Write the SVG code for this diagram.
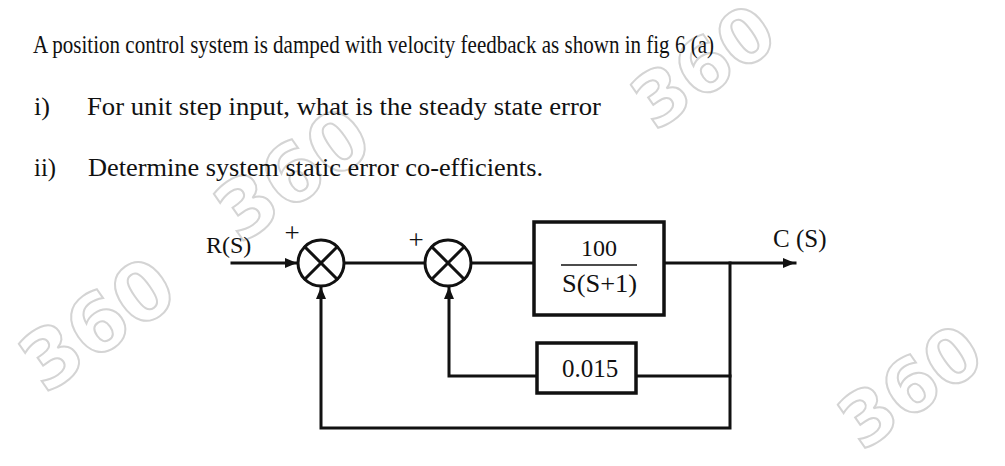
<svg xmlns="http://www.w3.org/2000/svg" width="1005" height="466" viewBox="0 0 1005 466">
<defs>
<style>
.t{font-family:"Liberation Serif","Times New Roman",serif;fill:#111;}
.q{font-size:26px;}
.ln{fill:none;stroke:#111;stroke-width:3;stroke-linecap:square;}
.bx{fill:#fff;stroke:#111;stroke-width:3.5;}
.wm{font-family:"DejaVu Sans",sans-serif;font-weight:bold;fill:none;stroke:#d4d4d4;stroke-width:2;}
</style>
<marker id="ah" viewBox="0 0 12 10" refX="12" refY="5" markerWidth="12" markerHeight="10" markerUnits="userSpaceOnUse" orient="auto">
<path d="M0,0 L12,5 L0,10 Z" fill="#111"/>
</marker>
</defs>
<rect width="1005" height="466" fill="#fff"/>
<g id="watermarks">
<text class="wm" font-size="80" transform="translate(45,395) rotate(-35)">360</text>
<text class="wm" font-size="80" transform="translate(240,245) rotate(-35)">360</text>
<text class="wm" font-size="74" transform="translate(655,132) rotate(-35)">360</text>
<text class="wm" font-size="74" transform="translate(862,452) rotate(-35)">360</text>
</g>
<g id="question">
<text class="t q" x="33" y="53" textLength="681" lengthAdjust="spacingAndGlyphs">A position control system is damped with velocity feedback as shown in fig 6 (a)</text>
<text class="t q" x="34" y="115" textLength="16" lengthAdjust="spacingAndGlyphs">i)</text>
<text class="t q" x="87" y="115" textLength="514" lengthAdjust="spacingAndGlyphs">For unit step input, what is the steady state error</text>
<text class="t q" x="34" y="176" textLength="22" lengthAdjust="spacingAndGlyphs">ii)</text>
<text class="t q" x="88" y="176" textLength="455" lengthAdjust="spacingAndGlyphs">Determine system static error co-efficients.</text>
</g>
<g id="connectors">
<line class="ln" x1="232" y1="263" x2="297" y2="263" marker-end="url(#ah)"/>
<line class="ln" x1="344" y1="263" x2="425" y2="263"/>
<line class="ln" x1="471" y1="263" x2="534" y2="263"/>
<line class="ln" x1="664" y1="263" x2="795" y2="263" marker-end="url(#ah)"/>
<polyline class="ln" points="730,263 730,428 321,428 321,287" marker-end="url(#ah)"/>
<line class="ln" x1="730" y1="376" x2="636" y2="376"/>
<polyline class="ln" points="537,376 449,376 449,287" marker-end="url(#ah)"/>
</g>
<g id="sum1">
<circle cx="321" cy="263" r="23" fill="#fff" stroke="#111" stroke-width="3"/>
<path class="ln" d="M305,247 L337,279 M337,247 L305,279" stroke-linecap="butt"/>
<text class="t" x="292" y="242" font-size="27" text-anchor="middle">+</text>
</g>
<g id="sum2">
<circle cx="448" cy="263" r="23" fill="#fff" stroke="#111" stroke-width="3"/>
<path class="ln" d="M432,247 L464,279 M464,247 L432,279" stroke-linecap="butt"/>
<text class="t" x="416" y="249" font-size="27" text-anchor="middle">+</text>
</g>
<g id="input">
<text class="t" x="206" y="253" font-size="24">R(S)</text>
</g>
<g id="output">
<text class="t" x="773" y="247" font-size="25">C (S)</text>
</g>
<g id="G">
<rect class="bx" x="534" y="222" width="130" height="93"/>
<text class="t" x="599" y="256" font-size="24" text-anchor="middle">100</text>
<line x1="561" y1="265" x2="637" y2="265" stroke="#111" stroke-width="1.5"/>
<text class="t" x="562" y="292" font-size="25" textLength="75" lengthAdjust="spacingAndGlyphs">S(S+1)</text>
</g>
<g id="H">
<rect class="bx" x="537" y="343" width="99" height="50"/>
<text class="t" x="590" y="377" font-size="25" text-anchor="middle">0.015</text>
</g>
</svg>
